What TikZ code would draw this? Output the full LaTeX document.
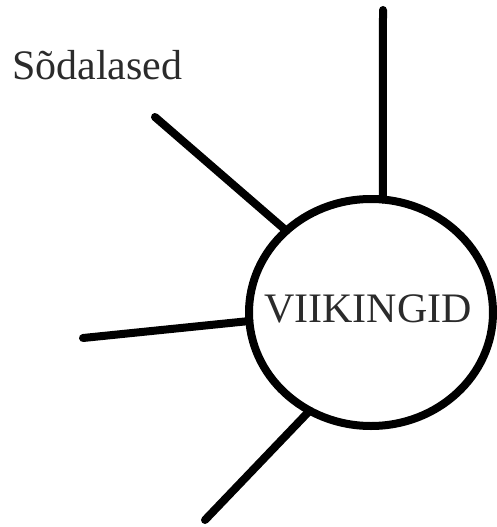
\documentclass[tikz,border=0pt]{standalone}
\usepackage{fontspec}
\setmainfont{Liberation Serif}
\usepackage{xcolor}
\usepackage{tikz}
\usetikzlibrary{shapes.geometric}
\definecolor{inkx}{HTML}{000000}
\definecolor{textx}{HTML}{2B2B2B}
\tikzset{
  spoke/.style={line width=8pt,line cap=round,inkx},
  hub/.style={ellipse,draw=inkx,line width=8pt,minimum width=244pt,minimum height=227pt,inner sep=0pt,outer sep=0pt},
  lbl/.style={text=textx,font=\fontsize{42}{48}\selectfont,inner sep=0pt}
}
\begin{document}
\begin{tikzpicture}[x=1pt,y=-1pt]
\useasboundingbox (0,0) rectangle (497,527);
\node[hub] (viking) at (371,312.5) {};
\node[lbl] (vikingtext) at (368,309) {VIIKINGID};
\node[lbl,anchor=base west] (soda) at (12,79) {Sõdalased};
\coordinate (topend) at (383,10);
\coordinate (upleft) at (155,117);
\coordinate (left) at (83,338);
\coordinate (down) at (205,520);
\draw[spoke] (topend) -- (viking.84);
\draw[spoke] (upleft) -- (viking.136);
\draw[spoke] (left) -- (viking.184.5);
\draw[spoke] (down) -- (viking.238.7);
\end{tikzpicture}
\end{document}
